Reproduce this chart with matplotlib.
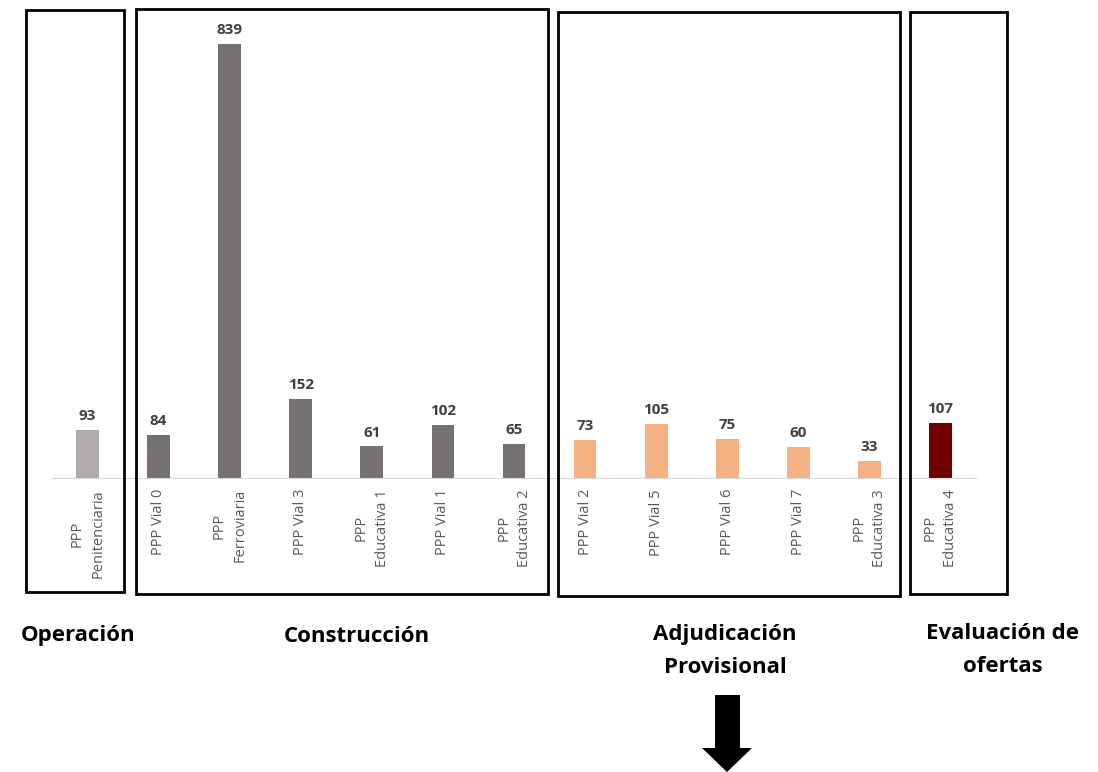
import matplotlib.pyplot as plt
from matplotlib.patches import Rectangle, Polygon

plt.rcParams['font.family'] = ['Open Sans', 'DejaVu Sans']

# project names, days and stage of each project
proyectos = ['PPP\nPenitenciaria', 'PPP Vial 0', 'PPP\nFerroviaria', 'PPP Vial 3',
             'PPP\nEducativa 1', 'PPP Vial 1', 'PPP\nEducativa 2', 'PPP Vial 2',
             'PPP Vial 5', 'PPP Vial 6', 'PPP Vial 7', 'PPP\nEducativa 3',
             'PPP\nEducativa 4']
dias = [93, 84, 839, 152, 61, 102, 65, 73, 105, 75, 60, 33, 107]
etapa = ['op', 'con', 'con', 'con', 'con', 'con', 'con',
         'adj', 'adj', 'adj', 'adj', 'adj', 'eva']

colores = {'op': '#AFABAB', 'con': '#767171', 'adj': '#F4B183', 'eva': '#700000'}

W, H = 1098, 772
fig = plt.figure(figsize=(W / 100, H / 100), dpi=100)

# bar chart, positioned in pixel terms
x0, x1, ybase, ytop = 52, 976, 478, 10
ax = fig.add_axes([x0 / W, 1 - ybase / H, (x1 - x0) / W, (ybase - ytop) / H])
pos = range(len(proyectos))
ax.bar(pos, dias, width=0.32, color=[colores[e] for e in etapa])
for i, v in enumerate(dias):
    ax.annotate(str(v), (i, v), xytext=(0, 5), textcoords='offset points',
                ha='center', va='bottom', fontsize=11, fontweight='bold',
                color='#404040')
ax.set_xlim(-0.5, len(proyectos) - 0.5)
ax.set_ylim(0, 839 * (ybase - ytop) / (ybase - 44))
ax.set_xticks(list(pos))
ax.set_xticklabels(proyectos, rotation=90, fontsize=10.5, color='#595959',
                   multialignment='center', linespacing=1.5)
ax.tick_params(axis='x', length=0, pad=8)
ax.set_yticks([])
for s in ['top', 'right', 'left']:
    ax.spines[s].set_visible(False)
ax.spines['bottom'].set_color('#D9D9D9')
ax.patch.set_alpha(0)

# overlay in pixel coordinates for frames, stage names and the arrow
ov = fig.add_axes([0, 0, 1, 1], zorder=5)
ov.set_xlim(0, W)
ov.set_ylim(H, 0)
ov.axis('off')
ov.patch.set_alpha(0)

marcos = [(26, 10, 124, 592), (136, 9, 548, 594),
          (558, 12, 900, 596), (910, 12, 1007, 594)]
for a, b, c, d in marcos:
    ov.add_patch(Rectangle((a, b), c - a, d - b, fill=False,
                           edgecolor='black', linewidth=2))

kw = dict(ha='center', va='center', fontsize=16, fontweight='bold', color='black')
ov.text(78, 636, 'Operación', **kw)
ov.text(357, 636, 'Construcción', **kw)
ov.text(725, 651, 'Adjudicación\nProvisional', linespacing=1.75, **kw)
ov.text(1003, 650, 'Evaluación de\nofertas', linespacing=1.75, **kw)

flecha = [(715, 695), (740, 695), (740, 748), (752, 748), (727, 772),
          (702, 748), (715, 748)]
ov.add_patch(Polygon(flecha, closed=True, facecolor='black', edgecolor='none'))

fig.savefig('out.png', dpi=100)
